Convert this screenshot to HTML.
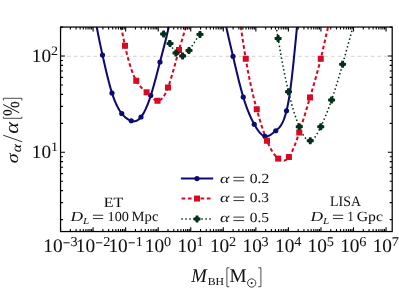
<!DOCTYPE html>
<html><head><meta charset="utf-8"><title>chart</title>
<style>html,body{margin:0;padding:0;background:#fff;width:399px;height:292px;overflow:hidden}body{position:relative;font-family:"Liberation Serif",serif}</style>
</head><body>
<div style="position:absolute;left:0;top:0;width:399px;height:292px;will-change:transform">
<svg width="399" height="292" viewBox="0 0 399 292" style="position:absolute;left:0;top:0" font-family="'Liberation Serif', serif" fill="#111" xml:space="preserve" text-rendering="geometricPrecision">
<defs><clipPath id="c"><rect x="60.55" y="27.05" width="331.65" height="204.5"/></clipPath></defs>
<rect width="399" height="292" fill="#fff"/>
<line x1="60.55" y1="56.3" x2="392.2" y2="56.3" stroke="#c2c2c2" stroke-width="0.7" stroke-dasharray="3.7,2.9"/>
<g clip-path="url(#c)" fill="none" stroke-linejoin="round">
<path d="M94.50,14.00 L94.82,15.96 L95.14,17.89 L95.47,19.78 L95.79,21.64 L96.11,23.47 L96.43,25.26 L96.76,27.03 L97.08,28.76 L97.40,30.47 L97.72,32.16 L98.04,33.82 L98.37,35.45 L98.69,37.07 L99.01,38.66 L99.33,40.24 L99.65,41.79 L99.98,43.34 L100.30,44.86 L100.62,46.37 L100.94,47.88 L101.27,49.37 L101.59,50.85 L101.91,52.32 L102.23,53.79 L102.55,55.25 L102.88,56.70 L103.20,58.15 L103.52,59.60 L103.84,61.04 L104.17,62.47 L104.49,63.89 L104.81,65.31 L105.13,66.71 L105.45,68.11 L105.78,69.49 L106.10,70.86 L106.42,72.22 L106.74,73.57 L107.06,74.90 L107.39,76.22 L107.71,77.52 L108.03,78.80 L108.35,80.07 L108.68,81.32 L109.00,82.55 L109.32,83.77 L109.64,84.96 L109.96,86.13 L110.29,87.28 L110.61,88.41 L110.93,89.51 L111.25,90.59 L111.58,91.65 L111.90,92.68 L112.22,93.68 L112.54,94.66 L112.86,95.61 L113.19,96.54 L113.51,97.44 L113.83,98.32 L114.15,99.18 L114.47,100.01 L114.80,100.82 L115.12,101.60 L115.44,102.37 L115.76,103.11 L116.09,103.83 L116.41,104.53 L116.73,105.21 L117.05,105.87 L117.37,106.51 L117.70,107.13 L118.02,107.73 L118.34,108.32 L118.66,108.88 L118.99,109.43 L119.31,109.97 L119.63,110.48 L119.95,110.98 L120.27,111.47 L120.60,111.94 L120.92,112.39 L121.24,112.83 L121.56,113.26 L121.88,113.67 L122.21,114.07 L122.53,114.46 L122.85,114.83 L123.17,115.20 L123.50,115.55 L123.82,115.89 L124.14,116.21 L124.46,116.53 L124.78,116.83 L125.11,117.12 L125.43,117.40 L125.75,117.67 L126.07,117.93 L126.40,118.18 L126.72,118.41 L127.04,118.64 L127.36,118.86 L127.68,119.07 L128.01,119.26 L128.33,119.45 L128.65,119.63 L128.97,119.80 L129.29,119.96 L129.62,120.11 L129.94,120.25 L130.26,120.39 L130.58,120.51 L130.91,120.63 L131.23,120.74 L131.55,120.85 L131.87,120.94 L132.19,121.02 L132.52,121.09 L132.84,121.15 L133.16,121.20 L133.48,121.23 L133.81,121.25 L134.13,121.25 L134.45,121.24 L134.77,121.20 L135.09,121.15 L135.42,121.09 L135.74,121.00 L136.06,120.90 L136.38,120.78 L136.71,120.64 L137.03,120.49 L137.35,120.31 L137.67,120.12 L137.99,119.91 L138.32,119.68 L138.64,119.43 L138.96,119.16 L139.28,118.87 L139.60,118.56 L139.93,118.23 L140.25,117.89 L140.57,117.52 L140.89,117.13 L141.22,116.72 L141.54,116.30 L141.86,115.85 L142.18,115.38 L142.50,114.89 L142.83,114.38 L143.15,113.85 L143.47,113.30 L143.79,112.73 L144.12,112.14 L144.44,111.53 L144.76,110.90 L145.08,110.25 L145.40,109.58 L145.73,108.89 L146.05,108.18 L146.37,107.45 L146.69,106.70 L147.01,105.93 L147.34,105.14 L147.66,104.33 L147.98,103.51 L148.30,102.66 L148.63,101.79 L148.95,100.91 L149.27,100.00 L149.59,99.08 L149.91,98.14 L150.24,97.17 L150.56,96.19 L150.88,95.19 L151.20,94.17 L151.53,93.14 L151.85,92.08 L152.17,91.01 L152.49,89.92 L152.81,88.82 L153.14,87.71 L153.46,86.58 L153.78,85.44 L154.10,84.29 L154.42,83.12 L154.75,81.95 L155.07,80.76 L155.39,79.57 L155.71,78.37 L156.04,77.16 L156.36,75.95 L156.68,74.73 L157.00,73.50 L157.32,72.27 L157.65,71.04 L157.97,69.80 L158.29,68.57 L158.61,67.33 L158.94,66.09 L159.26,64.85 L159.58,63.61 L159.90,62.38 L160.22,61.14 L160.55,59.91 L160.87,58.68 L161.19,57.45 L161.51,56.23 L161.83,55.00 L162.16,53.77 L162.48,52.53 L162.80,51.30 L163.12,50.06 L163.45,48.81 L163.77,47.56 L164.09,46.31 L164.41,45.05 L164.73,43.78 L165.06,42.50 L165.38,41.21 L165.70,39.91 L166.02,38.60 L166.35,37.28 L166.67,35.95 L166.99,34.61 L167.31,33.25 L167.63,31.88 L167.96,30.49 L168.28,29.09 L168.60,27.67 L168.92,26.23 L169.24,24.77 L169.57,23.30 L169.89,21.80 L170.21,20.28 L170.53,18.75 L170.86,17.19 L171.18,15.61 L171.50,14.00" stroke="#0b0b72" stroke-width="2.05"/>
<path d="M223.50,14.00 L223.81,15.53 L224.13,17.05 L224.44,18.55 L224.75,20.04 L225.06,21.52 L225.38,22.98 L225.69,24.43 L226.00,25.87 L226.32,27.30 L226.63,28.72 L226.94,30.13 L227.26,31.53 L227.57,32.92 L227.88,34.30 L228.19,35.68 L228.51,37.05 L228.82,38.41 L229.13,39.77 L229.45,41.12 L229.76,42.46 L230.07,43.80 L230.39,45.14 L230.70,46.48 L231.01,47.81 L231.32,49.14 L231.64,50.47 L231.95,51.79 L232.26,53.12 L232.58,54.45 L232.89,55.78 L233.20,57.11 L233.52,58.44 L233.83,59.77 L234.14,61.10 L234.45,62.44 L234.77,63.77 L235.08,65.09 L235.39,66.42 L235.71,67.74 L236.02,69.06 L236.33,70.37 L236.64,71.68 L236.96,72.98 L237.27,74.28 L237.58,75.57 L237.90,76.85 L238.21,78.13 L238.52,79.39 L238.84,80.65 L239.15,81.90 L239.46,83.13 L239.77,84.35 L240.09,85.57 L240.40,86.77 L240.71,87.95 L241.03,89.12 L241.34,90.28 L241.65,91.42 L241.97,92.55 L242.28,93.66 L242.59,94.76 L242.90,95.83 L243.22,96.89 L243.53,97.93 L243.84,98.95 L244.16,99.95 L244.47,100.94 L244.78,101.90 L245.09,102.85 L245.41,103.78 L245.72,104.70 L246.03,105.60 L246.35,106.48 L246.66,107.35 L246.97,108.20 L247.29,109.03 L247.60,109.85 L247.91,110.66 L248.22,111.45 L248.54,112.22 L248.85,112.99 L249.16,113.74 L249.48,114.47 L249.79,115.19 L250.10,115.90 L250.42,116.60 L250.73,117.29 L251.04,117.96 L251.35,118.62 L251.67,119.27 L251.98,119.91 L252.29,120.54 L252.61,121.16 L252.92,121.77 L253.23,122.37 L253.55,122.96 L253.86,123.54 L254.17,124.11 L254.48,124.67 L254.80,125.22 L255.11,125.77 L255.42,126.30 L255.74,126.83 L256.05,127.34 L256.36,127.85 L256.67,128.34 L256.99,128.82 L257.30,129.29 L257.61,129.75 L257.93,130.20 L258.24,130.63 L258.55,131.05 L258.87,131.46 L259.18,131.86 L259.49,132.24 L259.80,132.60 L260.12,132.95 L260.43,133.29 L260.74,133.61 L261.06,133.91 L261.37,134.20 L261.68,134.47 L262.00,134.73 L262.31,134.96 L262.62,135.19 L262.93,135.39 L263.25,135.57 L263.56,135.74 L263.87,135.88 L264.19,136.01 L264.50,136.12 L264.81,136.21 L265.13,136.27 L265.44,136.32 L265.75,136.35 L266.06,136.36 L266.38,136.35 L266.69,136.32 L267.00,136.28 L267.32,136.22 L267.63,136.14 L267.94,136.05 L268.25,135.94 L268.57,135.82 L268.88,135.69 L269.19,135.54 L269.51,135.39 L269.82,135.22 L270.13,135.04 L270.45,134.85 L270.76,134.65 L271.07,134.44 L271.38,134.23 L271.70,134.01 L272.01,133.78 L272.32,133.54 L272.64,133.30 L272.95,133.05 L273.26,132.81 L273.58,132.55 L273.89,132.30 L274.20,132.04 L274.51,131.78 L274.83,131.52 L275.14,131.26 L275.45,131.00 L275.77,130.74 L276.08,130.48 L276.39,130.22 L276.71,129.96 L277.02,129.70 L277.33,129.43 L277.64,129.15 L277.96,128.86 L278.27,128.56 L278.58,128.25 L278.90,127.93 L279.21,127.59 L279.52,127.23 L279.83,126.85 L280.15,126.45 L280.46,126.02 L280.77,125.57 L281.09,125.10 L281.40,124.59 L281.71,124.06 L282.03,123.49 L282.34,122.88 L282.65,122.25 L282.96,121.57 L283.28,120.85 L283.59,120.10 L283.90,119.29 L284.22,118.45 L284.53,117.56 L284.84,116.62 L285.16,115.62 L285.47,114.58 L285.78,113.48 L286.09,112.33 L286.41,111.12 L286.72,109.85 L287.03,108.52 L287.35,107.12 L287.66,105.65 L287.97,104.10 L288.28,102.48 L288.60,100.77 L288.91,98.98 L289.22,97.09 L289.54,95.11 L289.85,93.03 L290.16,90.85 L290.48,88.57 L290.79,86.18 L291.10,83.71 L291.41,81.15 L291.73,78.51 L292.04,75.79 L292.35,73.01 L292.67,70.16 L292.98,67.25 L293.29,64.28 L293.61,61.27 L293.92,58.22 L294.23,55.12 L294.54,52.00 L294.86,48.85 L295.17,45.68 L295.48,42.49 L295.80,39.29 L296.11,36.09 L296.42,32.89 L296.74,29.70 L297.05,26.51 L297.36,23.34 L297.67,20.20 L297.99,17.08 L298.30,14.00" stroke="#0b0b72" stroke-width="2.05"/>
<path d="M119.00,14.00 L119.29,15.77 L119.59,17.51 L119.88,19.23 L120.17,20.93 L120.46,22.61 L120.76,24.27 L121.05,25.90 L121.34,27.51 L121.64,29.10 L121.93,30.67 L122.22,32.21 L122.51,33.73 L122.81,35.23 L123.10,36.71 L123.39,38.16 L123.69,39.60 L123.98,41.01 L124.27,42.40 L124.56,43.76 L124.86,45.11 L125.15,46.43 L125.44,47.73 L125.74,49.00 L126.03,50.26 L126.32,51.49 L126.62,52.70 L126.91,53.89 L127.20,55.05 L127.49,56.20 L127.79,57.32 L128.08,58.42 L128.37,59.50 L128.67,60.56 L128.96,61.60 L129.25,62.61 L129.54,63.61 L129.84,64.58 L130.13,65.53 L130.42,66.46 L130.72,67.37 L131.01,68.26 L131.30,69.13 L131.59,69.98 L131.89,70.81 L132.18,71.62 L132.47,72.40 L132.77,73.17 L133.06,73.91 L133.35,74.64 L133.64,75.35 L133.94,76.03 L134.23,76.70 L134.52,77.34 L134.82,77.97 L135.11,78.57 L135.40,79.16 L135.69,79.73 L135.99,80.28 L136.28,80.80 L136.57,81.31 L136.87,81.80 L137.16,82.28 L137.45,82.73 L137.74,83.17 L138.04,83.59 L138.33,84.00 L138.62,84.40 L138.92,84.78 L139.21,85.14 L139.50,85.50 L139.79,85.84 L140.09,86.18 L140.38,86.50 L140.67,86.82 L140.97,87.12 L141.26,87.42 L141.55,87.71 L141.85,87.99 L142.14,88.27 L142.43,88.54 L142.72,88.81 L143.02,89.08 L143.31,89.34 L143.60,89.60 L143.90,89.86 L144.19,90.12 L144.48,90.37 L144.77,90.63 L145.07,90.89 L145.36,91.15 L145.65,91.42 L145.95,91.69 L146.24,91.96 L146.53,92.23 L146.82,92.52 L147.12,92.80 L147.41,93.10 L147.70,93.39 L148.00,93.69 L148.29,93.99 L148.58,94.30 L148.87,94.60 L149.17,94.90 L149.46,95.21 L149.75,95.51 L150.05,95.81 L150.34,96.11 L150.63,96.41 L150.92,96.70 L151.22,96.99 L151.51,97.27 L151.80,97.55 L152.10,97.82 L152.39,98.08 L152.68,98.33 L152.97,98.58 L153.27,98.81 L153.56,99.04 L153.85,99.26 L154.15,99.46 L154.44,99.65 L154.73,99.83 L155.03,100.00 L155.32,100.15 L155.61,100.28 L155.90,100.40 L156.20,100.51 L156.49,100.59 L156.78,100.66 L157.08,100.71 L157.37,100.74 L157.66,100.75 L157.95,100.74 L158.25,100.72 L158.54,100.67 L158.83,100.60 L159.13,100.50 L159.42,100.39 L159.71,100.26 L160.00,100.11 L160.30,99.93 L160.59,99.74 L160.88,99.52 L161.18,99.28 L161.47,99.02 L161.76,98.74 L162.05,98.44 L162.35,98.12 L162.64,97.77 L162.93,97.41 L163.23,97.02 L163.52,96.60 L163.81,96.17 L164.10,95.72 L164.40,95.24 L164.69,94.74 L164.98,94.21 L165.28,93.67 L165.57,93.10 L165.86,92.51 L166.15,91.90 L166.45,91.26 L166.74,90.60 L167.03,89.92 L167.33,89.21 L167.62,88.48 L167.91,87.73 L168.21,86.95 L168.50,86.16 L168.79,85.33 L169.08,84.49 L169.38,83.63 L169.67,82.75 L169.96,81.85 L170.26,80.93 L170.55,80.00 L170.84,79.05 L171.13,78.08 L171.43,77.11 L171.72,76.12 L172.01,75.11 L172.31,74.10 L172.60,73.08 L172.89,72.04 L173.18,71.00 L173.48,69.95 L173.77,68.90 L174.06,67.84 L174.36,66.77 L174.65,65.71 L174.94,64.63 L175.23,63.56 L175.53,62.49 L175.82,61.41 L176.11,60.34 L176.41,59.27 L176.70,58.20 L176.99,57.13 L177.28,56.07 L177.58,55.02 L177.87,53.97 L178.16,52.93 L178.46,51.89 L178.75,50.87 L179.04,49.86 L179.33,48.85 L179.63,47.86 L179.92,46.87 L180.21,45.89 L180.51,44.92 L180.80,43.95 L181.09,42.99 L181.38,42.02 L181.68,41.06 L181.97,40.10 L182.26,39.14 L182.56,38.18 L182.85,37.21 L183.14,36.24 L183.44,35.26 L183.73,34.27 L184.02,33.28 L184.31,32.28 L184.61,31.26 L184.90,30.24 L185.19,29.20 L185.49,28.15 L185.78,27.08 L186.07,26.00 L186.36,24.90 L186.66,23.78 L186.95,22.64 L187.24,21.47 L187.54,20.29 L187.83,19.08 L188.12,17.85 L188.41,16.60 L188.71,15.31 L189.00,14.00" stroke="#d60a22" stroke-width="2.05" stroke-dasharray="3.7,2.6"/>
<path d="M238.50,14.00 L238.89,16.08 L239.27,18.23 L239.66,20.45 L240.05,22.73 L240.44,25.07 L240.82,27.45 L241.21,29.87 L241.60,32.32 L241.98,34.79 L242.37,37.29 L242.76,39.79 L243.14,42.30 L243.53,44.81 L243.92,47.30 L244.31,49.78 L244.69,52.23 L245.08,54.65 L245.47,57.03 L245.85,59.37 L246.24,61.66 L246.63,63.89 L247.01,66.08 L247.40,68.22 L247.79,70.32 L248.18,72.37 L248.56,74.38 L248.95,76.35 L249.34,78.27 L249.72,80.16 L250.11,82.01 L250.50,83.83 L250.88,85.61 L251.27,87.36 L251.66,89.07 L252.05,90.76 L252.43,92.41 L252.82,94.03 L253.21,95.63 L253.59,97.21 L253.98,98.76 L254.37,100.28 L254.76,101.79 L255.14,103.27 L255.53,104.74 L255.92,106.18 L256.30,107.62 L256.69,109.03 L257.08,110.44 L257.46,111.82 L257.85,113.20 L258.24,114.56 L258.63,115.91 L259.01,117.24 L259.40,118.55 L259.79,119.85 L260.17,121.13 L260.56,122.40 L260.95,123.65 L261.33,124.88 L261.72,126.10 L262.11,127.30 L262.50,128.48 L262.88,129.64 L263.27,130.78 L263.66,131.90 L264.04,133.01 L264.43,134.09 L264.82,135.15 L265.21,136.19 L265.59,137.22 L265.98,138.22 L266.37,139.19 L266.75,140.15 L267.14,141.09 L267.53,142.00 L267.91,142.89 L268.30,143.75 L268.69,144.60 L269.08,145.42 L269.46,146.22 L269.85,147.00 L270.24,147.76 L270.62,148.49 L271.01,149.21 L271.40,149.90 L271.78,150.57 L272.17,151.22 L272.56,151.85 L272.95,152.45 L273.33,153.04 L273.72,153.60 L274.11,154.14 L274.49,154.66 L274.88,155.16 L275.27,155.64 L275.65,156.10 L276.04,156.54 L276.43,156.95 L276.82,157.35 L277.20,157.73 L277.59,158.08 L277.98,158.42 L278.36,158.73 L278.75,159.03 L279.14,159.30 L279.53,159.55 L279.91,159.78 L280.30,159.98 L280.69,160.16 L281.07,160.32 L281.46,160.45 L281.85,160.55 L282.23,160.63 L282.62,160.68 L283.01,160.70 L283.40,160.69 L283.78,160.65 L284.17,160.58 L284.56,160.48 L284.94,160.35 L285.33,160.19 L285.72,159.99 L286.10,159.76 L286.49,159.49 L286.88,159.19 L287.27,158.85 L287.65,158.47 L288.04,158.06 L288.43,157.61 L288.81,157.11 L289.20,156.58 L289.59,156.01 L289.97,155.41 L290.36,154.76 L290.75,154.08 L291.14,153.37 L291.52,152.62 L291.91,151.84 L292.30,151.03 L292.68,150.19 L293.07,149.32 L293.46,148.43 L293.85,147.50 L294.23,146.56 L294.62,145.58 L295.01,144.59 L295.39,143.57 L295.78,142.53 L296.17,141.48 L296.55,140.40 L296.94,139.31 L297.33,138.20 L297.72,137.08 L298.10,135.94 L298.49,134.79 L298.88,133.63 L299.26,132.46 L299.65,131.28 L300.04,130.09 L300.42,128.89 L300.81,127.68 L301.20,126.47 L301.59,125.25 L301.97,124.02 L302.36,122.78 L302.75,121.54 L303.13,120.29 L303.52,119.04 L303.91,117.78 L304.29,116.52 L304.68,115.25 L305.07,113.97 L305.46,112.69 L305.84,111.41 L306.23,110.13 L306.62,108.84 L307.00,107.55 L307.39,106.26 L307.78,104.96 L308.17,103.66 L308.55,102.36 L308.94,101.06 L309.33,99.76 L309.71,98.46 L310.10,97.16 L310.49,95.86 L310.87,94.56 L311.26,93.26 L311.65,91.95 L312.04,90.64 L312.42,89.33 L312.81,88.01 L313.20,86.69 L313.58,85.36 L313.97,84.03 L314.36,82.69 L314.74,81.34 L315.13,79.98 L315.52,78.61 L315.91,77.23 L316.29,75.83 L316.68,74.43 L317.07,73.01 L317.45,71.58 L317.84,70.14 L318.23,68.68 L318.62,67.21 L319.00,65.71 L319.39,64.21 L319.78,62.68 L320.16,61.13 L320.55,59.57 L320.94,57.98 L321.32,56.37 L321.71,54.75 L322.10,53.11 L322.49,51.45 L322.87,49.78 L323.26,48.10 L323.65,46.40 L324.03,44.69 L324.42,42.98 L324.81,41.26 L325.19,39.53 L325.58,37.81 L325.97,36.07 L326.36,34.34 L326.74,32.61 L327.13,30.88 L327.52,29.15 L327.90,27.43 L328.29,25.71 L328.68,24.00 L329.06,22.30 L329.45,20.62 L329.84,18.94 L330.23,17.28 L330.61,15.63 L331.00,14.00" stroke="#d60a22" stroke-width="2.05" stroke-dasharray="3.7,2.6"/>
<path d="M163.60,34.00 L163.75,34.15 L163.90,34.31 L164.06,34.48 L164.21,34.65 L164.36,34.82 L164.51,35.00 L164.67,35.19 L164.82,35.38 L164.97,35.57 L165.12,35.77 L165.28,35.97 L165.43,36.18 L165.58,36.39 L165.73,36.60 L165.88,36.82 L166.04,37.04 L166.19,37.26 L166.34,37.49 L166.49,37.72 L166.65,37.95 L166.80,38.19 L166.95,38.43 L167.10,38.67 L167.26,38.91 L167.41,39.16 L167.56,39.41 L167.71,39.66 L167.86,39.91 L168.02,40.17 L168.17,40.42 L168.32,40.68 L168.47,40.94 L168.63,41.20 L168.78,41.46 L168.93,41.73 L169.08,41.99 L169.24,42.26 L169.39,42.52 L169.54,42.79 L169.69,43.06 L169.84,43.33 L170.00,43.59 L170.15,43.86 L170.30,44.13 L170.45,44.40 L170.61,44.67 L170.76,44.93 L170.91,45.20 L171.06,45.47 L171.22,45.73 L171.37,46.00 L171.52,46.26 L171.67,46.52 L171.82,46.79 L171.98,47.05 L172.13,47.30 L172.28,47.56 L172.43,47.82 L172.59,48.07 L172.74,48.32 L172.89,48.57 L173.04,48.82 L173.19,49.06 L173.35,49.31 L173.50,49.55 L173.65,49.78 L173.80,50.02 L173.96,50.25 L174.11,50.48 L174.26,50.70 L174.41,50.92 L174.57,51.14 L174.72,51.35 L174.87,51.57 L175.02,51.77 L175.17,51.98 L175.33,52.17 L175.48,52.37 L175.63,52.56 L175.78,52.74 L175.94,52.93 L176.09,53.10 L176.24,53.27 L176.39,53.44 L176.55,53.60 L176.70,53.76 L176.85,53.91 L177.00,54.06 L177.15,54.20 L177.31,54.34 L177.46,54.47 L177.61,54.60 L177.76,54.72 L177.92,54.84 L178.07,54.96 L178.22,55.06 L178.37,55.17 L178.53,55.27 L178.68,55.36 L178.83,55.45 L178.98,55.53 L179.13,55.61 L179.29,55.68 L179.44,55.75 L179.59,55.81 L179.74,55.87 L179.90,55.92 L180.05,55.97 L180.20,56.01 L180.35,56.05 L180.51,56.08 L180.66,56.11 L180.81,56.13 L180.96,56.15 L181.11,56.16 L181.27,56.17 L181.42,56.17 L181.57,56.17 L181.72,56.16 L181.88,56.14 L182.03,56.12 L182.18,56.10 L182.33,56.07 L182.49,56.03 L182.64,55.99 L182.79,55.94 L182.94,55.89 L183.09,55.83 L183.25,55.77 L183.40,55.71 L183.55,55.63 L183.70,55.56 L183.86,55.47 L184.01,55.39 L184.16,55.30 L184.31,55.20 L184.47,55.10 L184.62,55.00 L184.77,54.89 L184.92,54.77 L185.07,54.66 L185.23,54.54 L185.38,54.41 L185.53,54.28 L185.68,54.15 L185.84,54.01 L185.99,53.87 L186.14,53.72 L186.29,53.57 L186.45,53.42 L186.60,53.26 L186.75,53.11 L186.90,52.94 L187.05,52.78 L187.21,52.61 L187.36,52.44 L187.51,52.26 L187.66,52.08 L187.82,51.90 L187.97,51.72 L188.12,51.53 L188.27,51.34 L188.43,51.15 L188.58,50.95 L188.73,50.76 L188.88,50.56 L189.03,50.35 L189.19,50.15 L189.34,49.94 L189.49,49.74 L189.64,49.52 L189.80,49.31 L189.95,49.10 L190.10,48.88 L190.25,48.66 L190.41,48.44 L190.56,48.22 L190.71,48.00 L190.86,47.77 L191.01,47.55 L191.17,47.32 L191.32,47.09 L191.47,46.86 L191.62,46.63 L191.78,46.40 L191.93,46.17 L192.08,45.94 L192.23,45.70 L192.38,45.47 L192.54,45.23 L192.69,45.00 L192.84,44.76 L192.99,44.52 L193.15,44.28 L193.30,44.05 L193.45,43.81 L193.60,43.57 L193.76,43.33 L193.91,43.09 L194.06,42.86 L194.21,42.62 L194.36,42.38 L194.52,42.14 L194.67,41.91 L194.82,41.67 L194.97,41.43 L195.13,41.20 L195.28,40.96 L195.43,40.73 L195.58,40.49 L195.74,40.26 L195.89,40.03 L196.04,39.80 L196.19,39.57 L196.34,39.34 L196.50,39.11 L196.65,38.89 L196.80,38.66 L196.95,38.44 L197.11,38.22 L197.26,38.00 L197.41,37.78 L197.56,37.57 L197.72,37.35 L197.87,37.14 L198.02,36.93 L198.17,36.72 L198.32,36.51 L198.48,36.31 L198.63,36.11 L198.78,35.91 L198.93,35.71 L199.09,35.51 L199.24,35.32 L199.39,35.13 L199.54,34.94 L199.70,34.76 L199.85,34.58 L200.00,34.40" stroke="#04301a" stroke-width="1.55" stroke-dasharray="1.5,2.5"/>
<path d="M274.30,14.00 L274.65,16.38 L274.99,18.72 L275.34,21.03 L275.68,23.31 L276.03,25.56 L276.37,27.78 L276.72,29.97 L277.06,32.13 L277.41,34.27 L277.75,36.39 L278.10,38.48 L278.44,40.56 L278.79,42.61 L279.13,44.64 L279.48,46.65 L279.82,48.65 L280.17,50.62 L280.51,52.56 L280.86,54.49 L281.20,56.40 L281.55,58.29 L281.89,60.15 L282.24,62.00 L282.58,63.82 L282.93,65.62 L283.27,67.41 L283.62,69.17 L283.97,70.91 L284.31,72.62 L284.66,74.32 L285.00,75.99 L285.35,77.65 L285.69,79.28 L286.04,80.89 L286.38,82.48 L286.73,84.04 L287.07,85.59 L287.42,87.11 L287.76,88.61 L288.11,90.09 L288.45,91.55 L288.80,92.99 L289.14,94.40 L289.49,95.79 L289.83,97.17 L290.18,98.52 L290.52,99.84 L290.87,101.15 L291.21,102.44 L291.56,103.70 L291.90,104.95 L292.25,106.17 L292.59,107.37 L292.94,108.56 L293.29,109.72 L293.63,110.86 L293.98,111.99 L294.32,113.09 L294.67,114.17 L295.01,115.23 L295.36,116.28 L295.70,117.30 L296.05,118.31 L296.39,119.30 L296.74,120.26 L297.08,121.21 L297.43,122.14 L297.77,123.05 L298.12,123.95 L298.46,124.82 L298.81,125.68 L299.15,126.52 L299.50,127.34 L299.84,128.14 L300.19,128.93 L300.53,129.69 L300.88,130.44 L301.22,131.16 L301.57,131.86 L301.92,132.54 L302.26,133.20 L302.61,133.84 L302.95,134.45 L303.30,135.03 L303.64,135.60 L303.99,136.13 L304.33,136.64 L304.68,137.13 L305.02,137.59 L305.37,138.01 L305.71,138.41 L306.06,138.79 L306.40,139.13 L306.75,139.44 L307.09,139.72 L307.44,139.97 L307.78,140.19 L308.13,140.37 L308.47,140.52 L308.82,140.64 L309.16,140.72 L309.51,140.77 L309.85,140.78 L310.20,140.76 L310.54,140.70 L310.89,140.60 L311.24,140.47 L311.58,140.30 L311.93,140.10 L312.27,139.87 L312.62,139.60 L312.96,139.31 L313.31,138.99 L313.65,138.64 L314.00,138.26 L314.34,137.85 L314.69,137.42 L315.03,136.97 L315.38,136.49 L315.72,135.99 L316.07,135.47 L316.41,134.92 L316.76,134.36 L317.10,133.78 L317.45,133.18 L317.79,132.56 L318.14,131.93 L318.48,131.29 L318.83,130.63 L319.17,129.95 L319.52,129.27 L319.86,128.58 L320.21,127.87 L320.56,127.16 L320.90,126.43 L321.25,125.71 L321.59,124.97 L321.94,124.22 L322.28,123.47 L322.63,122.71 L322.97,121.95 L323.32,121.17 L323.66,120.39 L324.01,119.60 L324.35,118.80 L324.70,117.99 L325.04,117.17 L325.39,116.35 L325.73,115.52 L326.08,114.68 L326.42,113.83 L326.77,112.97 L327.11,112.10 L327.46,111.22 L327.80,110.34 L328.15,109.45 L328.49,108.54 L328.84,107.63 L329.18,106.71 L329.53,105.78 L329.88,104.84 L330.22,103.89 L330.57,102.93 L330.91,101.96 L331.26,100.98 L331.60,100.00 L331.95,99.00 L332.29,97.99 L332.64,96.97 L332.98,95.95 L333.33,94.91 L333.67,93.87 L334.02,92.82 L334.36,91.75 L334.71,90.68 L335.05,89.60 L335.40,88.52 L335.74,87.42 L336.09,86.32 L336.43,85.21 L336.78,84.09 L337.12,82.97 L337.47,81.84 L337.81,80.70 L338.16,79.55 L338.51,78.40 L338.85,77.24 L339.20,76.08 L339.54,74.91 L339.89,73.73 L340.23,72.55 L340.58,71.36 L340.92,70.17 L341.27,68.97 L341.61,67.77 L341.96,66.56 L342.30,65.35 L342.65,64.13 L342.99,62.91 L343.34,61.69 L343.68,60.46 L344.03,59.23 L344.37,57.99 L344.72,56.75 L345.06,55.51 L345.41,54.27 L345.75,53.03 L346.10,51.78 L346.44,50.53 L346.79,49.29 L347.13,48.04 L347.48,46.79 L347.83,45.54 L348.17,44.29 L348.52,43.04 L348.86,41.79 L349.21,40.55 L349.55,39.30 L349.90,38.06 L350.24,36.82 L350.59,35.58 L350.93,34.34 L351.28,33.11 L351.62,31.87 L351.97,30.65 L352.31,29.42 L352.66,28.20 L353.00,26.99 L353.35,25.78 L353.69,24.57 L354.04,23.37 L354.38,22.18 L354.73,20.99 L355.07,19.81 L355.42,18.63 L355.76,17.46 L356.11,16.30 L356.45,15.15 L356.80,14.00" stroke="#04301a" stroke-width="1.55" stroke-dasharray="1.5,2.5"/>
</g><g clip-path="url(#c)">
<circle cx="102.5" cy="55" r="2.6" fill="#0b0b72"/>
<circle cx="112" cy="93" r="2.6" fill="#0b0b72"/>
<circle cx="121.75" cy="113.5" r="2.6" fill="#0b0b72"/>
<circle cx="131.25" cy="120.75" r="2.6" fill="#0b0b72"/>
<circle cx="141" cy="117" r="2.6" fill="#0b0b72"/>
<circle cx="150.75" cy="95.6" r="2.6" fill="#0b0b72"/>
<circle cx="160" cy="62" r="2.6" fill="#0b0b72"/>
<circle cx="233" cy="56.25" r="2.6" fill="#0b0b72"/>
<circle cx="243.25" cy="97" r="2.6" fill="#0b0b72"/>
<circle cx="254.25" cy="124.25" r="2.6" fill="#0b0b72"/>
<circle cx="265" cy="136.25" r="2.6" fill="#0b0b72"/>
<circle cx="275.75" cy="130.75" r="2.6" fill="#0b0b72"/>
<circle cx="286.5" cy="110.75" r="2.6" fill="#0b0b72"/>
<rect x="122.00" y="42.75" width="6" height="6" fill="#d60a22"/>
<rect x="133.25" y="77.75" width="6" height="6" fill="#d60a22"/>
<rect x="143.60" y="89.30" width="6" height="6" fill="#d60a22"/>
<rect x="154.50" y="97.75" width="6" height="6" fill="#d60a22"/>
<rect x="165.00" y="84.50" width="6" height="6" fill="#d60a22"/>
<rect x="176.00" y="47.00" width="6" height="6" fill="#d60a22"/>
<rect x="242.75" y="55.75" width="6" height="6" fill="#d60a22"/>
<rect x="253.75" y="106.25" width="6" height="6" fill="#d60a22"/>
<rect x="264.00" y="137.75" width="6" height="6" fill="#d60a22"/>
<rect x="275.20" y="155.60" width="6" height="6" fill="#d60a22"/>
<rect x="285.90" y="154.00" width="6" height="6" fill="#d60a22"/>
<rect x="296.25" y="129.50" width="6" height="6" fill="#d60a22"/>
<rect x="307.00" y="94.50" width="6" height="6" fill="#d60a22"/>
<rect x="317.75" y="55.75" width="6" height="6" fill="#d60a22"/>
<polygon points="162.35,30.50 164.85,30.50 165.25,32.35 167.10,32.75 167.10,35.25 165.25,35.65 164.85,37.50 162.35,37.50 161.95,35.65 160.10,35.25 160.10,32.75 161.95,32.35" fill="#04301a"/>
<polygon points="168.75,40.10 171.25,40.10 171.65,41.95 173.50,42.35 173.50,44.85 171.65,45.25 171.25,47.10 168.75,47.10 168.35,45.25 166.50,44.85 166.50,42.35 168.35,41.95" fill="#04301a"/>
<polygon points="174.75,49.50 177.25,49.50 177.65,51.35 179.50,51.75 179.50,54.25 177.65,54.65 177.25,56.50 174.75,56.50 174.35,54.65 172.50,54.25 172.50,51.75 174.35,51.35" fill="#04301a"/>
<polygon points="181.35,52.50 183.85,52.50 184.25,54.35 186.10,54.75 186.10,57.25 184.25,57.65 183.85,59.50 181.35,59.50 180.95,57.65 179.10,57.25 179.10,54.75 180.95,54.35" fill="#04301a"/>
<polygon points="187.75,46.90 190.25,46.90 190.65,48.75 192.50,49.15 192.50,51.65 190.65,52.05 190.25,53.90 187.75,53.90 187.35,52.05 185.50,51.65 185.50,49.15 187.35,48.75" fill="#04301a"/>
<polygon points="198.75,30.90 201.25,30.90 201.65,32.75 203.50,33.15 203.50,35.65 201.65,36.05 201.25,37.90 198.75,37.90 198.35,36.05 196.50,35.65 196.50,33.15 198.35,32.75" fill="#04301a"/>
<polygon points="276.85,35.00 279.35,35.00 279.75,36.85 281.60,37.25 281.60,39.75 279.75,40.15 279.35,42.00 276.85,42.00 276.45,40.15 274.60,39.75 274.60,37.25 276.45,36.85" fill="#04301a"/>
<polygon points="287.25,88.25 289.75,88.25 290.15,90.10 292.00,90.50 292.00,93.00 290.15,93.40 289.75,95.25 287.25,95.25 286.85,93.40 285.00,93.00 285.00,90.50 286.85,90.10" fill="#04301a"/>
<polygon points="298.00,123.25 300.50,123.25 300.90,125.10 302.75,125.50 302.75,128.00 300.90,128.40 300.50,130.25 298.00,130.25 297.60,128.40 295.75,128.00 295.75,125.50 297.60,125.10" fill="#04301a"/>
<polygon points="309.00,137.25 311.50,137.25 311.90,139.10 313.75,139.50 313.75,142.00 311.90,142.40 311.50,144.25 309.00,144.25 308.60,142.40 306.75,142.00 306.75,139.50 308.60,139.10" fill="#04301a"/>
<polygon points="319.50,123.25 322.00,123.25 322.40,125.10 324.25,125.50 324.25,128.00 322.40,128.40 322.00,130.25 319.50,130.25 319.10,128.40 317.25,128.00 317.25,125.50 319.10,125.10" fill="#04301a"/>
<polygon points="330.35,96.50 332.85,96.50 333.25,98.35 335.10,98.75 335.10,101.25 333.25,101.65 332.85,103.50 330.35,103.50 329.95,101.65 328.10,101.25 328.10,98.75 329.95,98.35" fill="#04301a"/>
<polygon points="341.35,60.80 343.85,60.80 344.25,62.65 346.10,63.05 346.10,65.55 344.25,65.95 343.85,67.80 341.35,67.80 340.95,65.95 339.10,65.55 339.10,63.05 340.95,62.65" fill="#04301a"/>
</g>
<path d="M60.55,231.55v-4.4 M60.55,27.05v4.4 M70.35,231.55v-2.5 M70.35,27.05v2.5 M76.08,231.55v-2.5 M76.08,27.05v2.5 M80.15,231.55v-2.5 M80.15,27.05v2.5 M83.30,231.55v-2.5 M83.30,27.05v2.5 M85.88,231.55v-2.5 M85.88,27.05v2.5 M88.06,231.55v-2.5 M88.06,27.05v2.5 M89.95,231.55v-2.5 M89.95,27.05v2.5 M91.61,231.55v-2.5 M91.61,27.05v2.5 M93.10,231.55v-4.4 M93.10,27.05v4.4 M102.90,231.55v-2.5 M102.90,27.05v2.5 M108.63,231.55v-2.5 M108.63,27.05v2.5 M112.70,231.55v-2.5 M112.70,27.05v2.5 M115.85,231.55v-2.5 M115.85,27.05v2.5 M118.43,231.55v-2.5 M118.43,27.05v2.5 M120.61,231.55v-2.5 M120.61,27.05v2.5 M122.50,231.55v-2.5 M122.50,27.05v2.5 M124.16,231.55v-2.5 M124.16,27.05v2.5 M125.65,231.55v-4.4 M125.65,27.05v4.4 M135.45,231.55v-2.5 M135.45,27.05v2.5 M141.18,231.55v-2.5 M141.18,27.05v2.5 M145.25,231.55v-2.5 M145.25,27.05v2.5 M148.40,231.55v-2.5 M148.40,27.05v2.5 M150.98,231.55v-2.5 M150.98,27.05v2.5 M153.16,231.55v-2.5 M153.16,27.05v2.5 M155.05,231.55v-2.5 M155.05,27.05v2.5 M156.71,231.55v-2.5 M156.71,27.05v2.5 M158.20,231.55v-4.4 M158.20,27.05v4.4 M168.00,231.55v-2.5 M168.00,27.05v2.5 M173.73,231.55v-2.5 M173.73,27.05v2.5 M177.80,231.55v-2.5 M177.80,27.05v2.5 M180.95,231.55v-2.5 M180.95,27.05v2.5 M183.53,231.55v-2.5 M183.53,27.05v2.5 M185.71,231.55v-2.5 M185.71,27.05v2.5 M187.60,231.55v-2.5 M187.60,27.05v2.5 M189.26,231.55v-2.5 M189.26,27.05v2.5 M190.75,231.55v-4.4 M190.75,27.05v4.4 M200.55,231.55v-2.5 M200.55,27.05v2.5 M206.28,231.55v-2.5 M206.28,27.05v2.5 M210.35,231.55v-2.5 M210.35,27.05v2.5 M213.50,231.55v-2.5 M213.50,27.05v2.5 M216.08,231.55v-2.5 M216.08,27.05v2.5 M218.26,231.55v-2.5 M218.26,27.05v2.5 M220.15,231.55v-2.5 M220.15,27.05v2.5 M221.81,231.55v-2.5 M221.81,27.05v2.5 M223.30,231.55v-4.4 M223.30,27.05v4.4 M233.10,231.55v-2.5 M233.10,27.05v2.5 M238.83,231.55v-2.5 M238.83,27.05v2.5 M242.90,231.55v-2.5 M242.90,27.05v2.5 M246.05,231.55v-2.5 M246.05,27.05v2.5 M248.63,231.55v-2.5 M248.63,27.05v2.5 M250.81,231.55v-2.5 M250.81,27.05v2.5 M252.70,231.55v-2.5 M252.70,27.05v2.5 M254.36,231.55v-2.5 M254.36,27.05v2.5 M255.85,231.55v-4.4 M255.85,27.05v4.4 M265.65,231.55v-2.5 M265.65,27.05v2.5 M271.38,231.55v-2.5 M271.38,27.05v2.5 M275.45,231.55v-2.5 M275.45,27.05v2.5 M278.60,231.55v-2.5 M278.60,27.05v2.5 M281.18,231.55v-2.5 M281.18,27.05v2.5 M283.36,231.55v-2.5 M283.36,27.05v2.5 M285.25,231.55v-2.5 M285.25,27.05v2.5 M286.91,231.55v-2.5 M286.91,27.05v2.5 M288.40,231.55v-4.4 M288.40,27.05v4.4 M298.20,231.55v-2.5 M298.20,27.05v2.5 M303.93,231.55v-2.5 M303.93,27.05v2.5 M308.00,231.55v-2.5 M308.00,27.05v2.5 M311.15,231.55v-2.5 M311.15,27.05v2.5 M313.73,231.55v-2.5 M313.73,27.05v2.5 M315.91,231.55v-2.5 M315.91,27.05v2.5 M317.80,231.55v-2.5 M317.80,27.05v2.5 M319.46,231.55v-2.5 M319.46,27.05v2.5 M320.95,231.55v-4.4 M320.95,27.05v4.4 M330.75,231.55v-2.5 M330.75,27.05v2.5 M336.48,231.55v-2.5 M336.48,27.05v2.5 M340.55,231.55v-2.5 M340.55,27.05v2.5 M343.70,231.55v-2.5 M343.70,27.05v2.5 M346.28,231.55v-2.5 M346.28,27.05v2.5 M348.46,231.55v-2.5 M348.46,27.05v2.5 M350.35,231.55v-2.5 M350.35,27.05v2.5 M352.01,231.55v-2.5 M352.01,27.05v2.5 M353.50,231.55v-4.4 M353.50,27.05v4.4 M363.30,231.55v-2.5 M363.30,27.05v2.5 M369.03,231.55v-2.5 M369.03,27.05v2.5 M373.10,231.55v-2.5 M373.10,27.05v2.5 M376.25,231.55v-2.5 M376.25,27.05v2.5 M378.83,231.55v-2.5 M378.83,27.05v2.5 M381.01,231.55v-2.5 M381.01,27.05v2.5 M382.90,231.55v-2.5 M382.90,27.05v2.5 M384.56,231.55v-2.5 M384.56,27.05v2.5 M386.05,231.55v-4.4 M386.05,27.05v4.4 M60.55,219.58h2.5 M392.2,219.58h-2.5 M60.55,202.63h2.5 M392.2,202.63h-2.5 M60.55,190.60h2.5 M392.2,190.60h-2.5 M60.55,181.27h2.5 M392.2,181.27h-2.5 M60.55,173.65h2.5 M392.2,173.65h-2.5 M60.55,167.21h2.5 M392.2,167.21h-2.5 M60.55,161.63h2.5 M392.2,161.63h-2.5 M60.55,156.70h2.5 M392.2,156.70h-2.5 M60.55,152.30h4.4 M392.2,152.30h-4.4 M60.55,123.33h2.5 M392.2,123.33h-2.5 M60.55,106.38h2.5 M392.2,106.38h-2.5 M60.55,94.35h2.5 M392.2,94.35h-2.5 M60.55,85.02h2.5 M392.2,85.02h-2.5 M60.55,77.40h2.5 M392.2,77.40h-2.5 M60.55,70.96h2.5 M392.2,70.96h-2.5 M60.55,65.38h2.5 M392.2,65.38h-2.5 M60.55,60.45h2.5 M392.2,60.45h-2.5 M60.55,56.05h4.4 M392.2,56.05h-4.4 M60.55,27.08h2.5 M392.2,27.08h-2.5" stroke="#000" stroke-width="1.1" fill="none"/>
<rect x="60.55" y="27.05" width="331.65" height="204.5" fill="none" stroke="#000" stroke-width="1.25"/>
<text transform="translate(43.312,252.207) scale(0.19310,0.19259)" font-size="100" stroke="#111" stroke-width="0.2" vector-effect="non-scaling-stroke">10</text>
<line x1="63.45" y1="242.8" x2="69.65" y2="242.8" stroke="#111" stroke-width="1.0"/>
<text transform="translate(70.579,245.814) scale(0.14286,0.13556)" font-size="100" stroke="#111" stroke-width="0.2" vector-effect="non-scaling-stroke">3</text>
<text transform="translate(75.862,252.207) scale(0.19310,0.19259)" font-size="100" stroke="#111" stroke-width="0.2" vector-effect="non-scaling-stroke">10</text>
<line x1="96.00" y1="242.8" x2="102.20" y2="242.8" stroke="#111" stroke-width="1.0"/>
<text transform="translate(103.129,245.814) scale(0.14286,0.13556)" font-size="100" stroke="#111" stroke-width="0.2" vector-effect="non-scaling-stroke">2</text>
<text transform="translate(108.412,252.207) scale(0.19310,0.19259)" font-size="100" stroke="#111" stroke-width="0.2" vector-effect="non-scaling-stroke">10</text>
<line x1="128.55" y1="242.8" x2="134.75" y2="242.8" stroke="#111" stroke-width="1.0"/>
<text transform="translate(135.679,245.814) scale(0.14286,0.13556)" font-size="100" stroke="#111" stroke-width="0.2" vector-effect="non-scaling-stroke">1</text>
<text transform="translate(144.862,252.207) scale(0.19310,0.19259)" font-size="100" stroke="#111" stroke-width="0.2" vector-effect="non-scaling-stroke">10</text>
<text transform="translate(163.929,245.814) scale(0.14286,0.13556)" font-size="100" stroke="#111" stroke-width="0.2" vector-effect="non-scaling-stroke">0</text>
<text transform="translate(177.412,252.207) scale(0.19310,0.19259)" font-size="100" stroke="#111" stroke-width="0.2" vector-effect="non-scaling-stroke">10</text>
<text transform="translate(196.479,245.814) scale(0.14286,0.13556)" font-size="100" stroke="#111" stroke-width="0.2" vector-effect="non-scaling-stroke">1</text>
<text transform="translate(209.962,252.207) scale(0.19310,0.19259)" font-size="100" stroke="#111" stroke-width="0.2" vector-effect="non-scaling-stroke">10</text>
<text transform="translate(229.029,245.814) scale(0.14286,0.13556)" font-size="100" stroke="#111" stroke-width="0.2" vector-effect="non-scaling-stroke">2</text>
<text transform="translate(242.512,252.207) scale(0.19310,0.19259)" font-size="100" stroke="#111" stroke-width="0.2" vector-effect="non-scaling-stroke">10</text>
<text transform="translate(261.579,245.814) scale(0.14286,0.13556)" font-size="100" stroke="#111" stroke-width="0.2" vector-effect="non-scaling-stroke">3</text>
<text transform="translate(275.062,252.207) scale(0.19310,0.19259)" font-size="100" stroke="#111" stroke-width="0.2" vector-effect="non-scaling-stroke">10</text>
<text transform="translate(294.129,245.814) scale(0.14286,0.13556)" font-size="100" stroke="#111" stroke-width="0.2" vector-effect="non-scaling-stroke">4</text>
<text transform="translate(307.612,252.207) scale(0.19310,0.19259)" font-size="100" stroke="#111" stroke-width="0.2" vector-effect="non-scaling-stroke">10</text>
<text transform="translate(326.679,245.814) scale(0.14286,0.13556)" font-size="100" stroke="#111" stroke-width="0.2" vector-effect="non-scaling-stroke">5</text>
<text transform="translate(340.162,252.207) scale(0.19310,0.19259)" font-size="100" stroke="#111" stroke-width="0.2" vector-effect="non-scaling-stroke">10</text>
<text transform="translate(359.229,245.814) scale(0.14286,0.13556)" font-size="100" stroke="#111" stroke-width="0.2" vector-effect="non-scaling-stroke">6</text>
<text transform="translate(372.712,252.207) scale(0.19310,0.19259)" font-size="100" stroke="#111" stroke-width="0.2" vector-effect="non-scaling-stroke">10</text>
<text transform="translate(391.779,245.814) scale(0.14286,0.13556)" font-size="100" stroke="#111" stroke-width="0.2" vector-effect="non-scaling-stroke">7</text>
<text transform="translate(31.767,61.660) scale(0.19253,0.18963)" font-size="100" stroke="#111" stroke-width="0.2" vector-effect="non-scaling-stroke">10</text>
<text transform="translate(50.938,54.770) scale(0.14048,0.13037)" font-size="100" stroke="#111" stroke-width="0.2" vector-effect="non-scaling-stroke">2</text>
<text transform="translate(31.767,157.910) scale(0.19253,0.18963)" font-size="100" stroke="#111" stroke-width="0.2" vector-effect="non-scaling-stroke">10</text>
<text transform="translate(50.938,151.020) scale(0.14048,0.13037)" font-size="100" stroke="#111" stroke-width="0.2" vector-effect="non-scaling-stroke">1</text>
<text transform="translate(191.187,282.000) scale(0.18652,0.19385)" font-size="100" font-style="italic" stroke="#111" stroke-width="0.2" vector-effect="non-scaling-stroke">M</text>
<text transform="translate(207.648,285.000) scale(0.11729,0.10687)" font-size="100" stroke="#111" stroke-width="0.2" vector-effect="non-scaling-stroke">BH</text>
<path d="M229.4,267.8H226.9V286.7H229.4" fill="none" stroke="#111" stroke-width="0.75"/>
<text transform="translate(229.422,282.000) scale(0.19277,0.19385)" font-size="100" stroke="#111" stroke-width="0.2" vector-effect="non-scaling-stroke">M</text>
<circle cx="251.7" cy="283" r="4.15" fill="none" stroke="#111" stroke-width="0.8"/><circle cx="251.7" cy="283" r="1" fill="#111"/>
<path d="M258.3,267.8H260.9V286.7H258.3" fill="none" stroke="#111" stroke-width="0.75"/>
<g transform="translate(0,162.7) rotate(-90)">
<text transform="translate(-0.600,17.729) scale(0.20000,0.17143)" font-size="100" font-style="italic" stroke="#111" stroke-width="0.0" vector-effect="non-scaling-stroke">σ</text>
<text transform="translate(10.435,21.265) scale(0.15490,0.13542)" font-size="100" font-style="italic" stroke="#111" stroke-width="0.0" vector-effect="non-scaling-stroke">α</text>
<line x1="20.9" y1="22.2" x2="27.5" y2="3.2" stroke="#111" stroke-width="0.85"/>
<text transform="translate(28.929,17.755) scale(0.22353,0.19479)" font-size="100" font-style="italic" stroke="#111" stroke-width="0.0" vector-effect="non-scaling-stroke">α</text>
<path d="M46.0,3.4H44.4V21.9H46.0" fill="none" stroke="#111" stroke-width="0.75"/>
<text transform="translate(46.582,18.644) scale(0.17647,0.23704)" font-size="100" stroke="#111" stroke-width="0.2" vector-effect="non-scaling-stroke">%</text>
<path d="M62.2,3.4H64.4V21.9H62.2" fill="none" stroke="#111" stroke-width="0.75"/>
</g>
<text transform="translate(103.820,206.500) scale(0.16000,0.14198)" font-size="100" stroke="#111" stroke-width="0.2" vector-effect="non-scaling-stroke">ET</text>
<text transform="translate(330.083,206.457) scale(0.13913,0.14328)" font-size="100" stroke="#111" stroke-width="0.2" vector-effect="non-scaling-stroke">LISA</text>
<text transform="translate(70.473,220.800) scale(0.17343,0.13740)" font-size="100" font-style="italic" stroke="#111" stroke-width="0.2" vector-effect="non-scaling-stroke">D</text><text transform="translate(83.112,223.500) scale(0.11154,0.09231)" font-size="100" font-style="italic" stroke="#111" stroke-width="0.2" vector-effect="non-scaling-stroke">L</text><path d="M92.90,215.25H103.20M92.90,218.55H103.20" stroke="#111" stroke-width="0.85" fill="none"/><text transform="translate(107.519,220.862) scale(0.14234,0.13778)" font-size="100" stroke="#111" stroke-width="0.2" vector-effect="non-scaling-stroke">100</text><text transform="translate(131.559,220.845) scale(0.14689,0.14070)" font-size="100" stroke="#111" stroke-width="0.2" vector-effect="non-scaling-stroke">Mpc</text>
<text transform="translate(310.473,220.800) scale(0.17343,0.13740)" font-size="100" font-style="italic" stroke="#111" stroke-width="0.2" vector-effect="non-scaling-stroke">D</text><text transform="translate(323.112,223.500) scale(0.11154,0.09231)" font-size="100" font-style="italic" stroke="#111" stroke-width="0.2" vector-effect="non-scaling-stroke">L</text><path d="M332.90,215.25H343.20M332.90,218.55H343.20" stroke="#111" stroke-width="0.85" fill="none"/><text transform="translate(347.494,220.800) scale(0.12286,0.13893)" font-size="100" stroke="#111" stroke-width="0.2" vector-effect="non-scaling-stroke">1</text><text transform="translate(356.671,220.879) scale(0.15737,0.13908)" font-size="100" stroke="#111" stroke-width="0.2" vector-effect="non-scaling-stroke">Gpc</text>
<line x1="180.9" y1="178.56" x2="213.2" y2="178.56" stroke="#0b0b72" stroke-width="2.05"/>
<circle cx="197" cy="178.56" r="2.6" fill="#0b0b72"/>
<text transform="translate(220.065,182.567) scale(0.17843,0.13333)" font-size="100" font-style="italic" stroke="#111" stroke-width="0.0" vector-effect="non-scaling-stroke">α</text>
<path d="M233.40,177.30H244.20M233.40,180.80H244.20" stroke="#111" stroke-width="0.85" fill="none"/>
<text transform="translate(249.673,182.542) scale(0.15671,0.13897)" font-size="100" stroke="#111" stroke-width="0.2" vector-effect="non-scaling-stroke">0.2</text>
<line x1="181.6" y1="198.56" x2="212.5" y2="198.56" stroke="#d60a22" stroke-width="2.05" stroke-dasharray="3.7,2.6"/>
<rect x="194.00" y="195.56" width="6" height="6" fill="#d60a22"/>
<text transform="translate(220.065,202.367) scale(0.17843,0.13333)" font-size="100" font-style="italic" stroke="#111" stroke-width="0.0" vector-effect="non-scaling-stroke">α</text>
<path d="M233.40,197.10H244.20M233.40,200.60H244.20" stroke="#111" stroke-width="0.85" fill="none"/>
<text transform="translate(249.681,202.342) scale(0.15470,0.13897)" font-size="100" stroke="#111" stroke-width="0.2" vector-effect="non-scaling-stroke">0.3</text>
<line x1="181.3" y1="219.0" x2="212.5" y2="219.0" stroke="#04301a" stroke-width="1.55" stroke-dasharray="1.5,2.5"/>
<polygon points="195.75,215.50 198.25,215.50 198.65,217.35 200.50,217.75 200.50,220.25 198.65,220.65 198.25,222.50 195.75,222.50 195.35,220.65 193.50,220.25 193.50,217.75 195.35,217.35" fill="#04301a"/>
<text transform="translate(220.065,222.367) scale(0.17843,0.13333)" font-size="100" font-style="italic" stroke="#111" stroke-width="0.0" vector-effect="non-scaling-stroke">α</text>
<path d="M233.40,217.10H244.20M233.40,220.60H244.20" stroke="#111" stroke-width="0.85" fill="none"/>
<text transform="translate(249.681,222.342) scale(0.15470,0.13897)" font-size="100" stroke="#111" stroke-width="0.2" vector-effect="non-scaling-stroke">0.5</text>
</svg>
</div>
</body></html>
